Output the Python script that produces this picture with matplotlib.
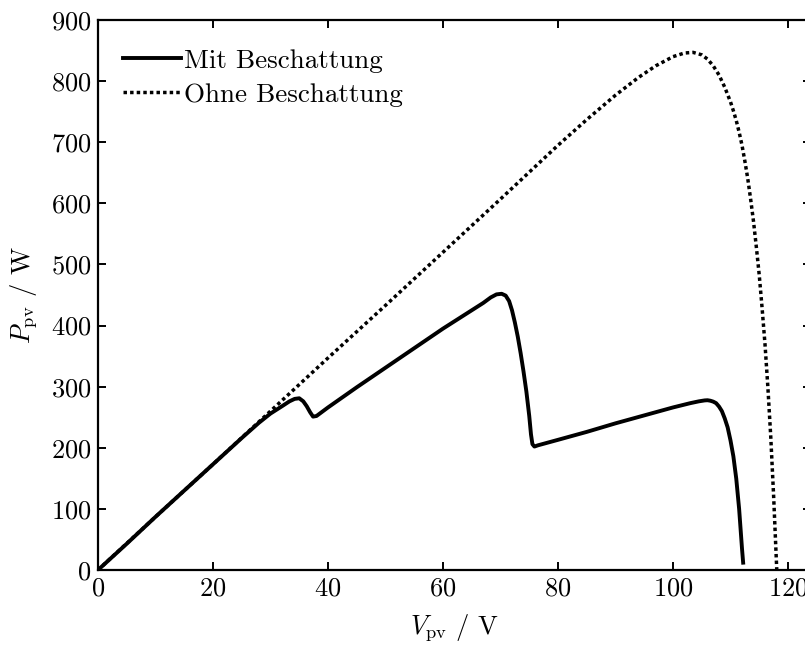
import matplotlib
matplotlib.use("Agg")
import matplotlib.pyplot as plt

plt.rcParams["font.family"] = "cmr10"
plt.rcParams["mathtext.fontset"] = "cm"
plt.rcParams["axes.unicode_minus"] = False
plt.rcParams["axes.formatter.use_mathtext"] = True

# P-V curve with partial shading
v_shaded = [0, 5, 10, 15, 20, 25, 28, 30, 32, 33.3, 34.2, 35.0, 35.7, 36.3, 36.9,
            37.4, 38.0, 40, 45, 50, 55, 60, 63, 67, 68.3, 69.3, 70.2, 70.9, 71.5,
            72.0, 72.5, 73.0, 73.5, 74.0, 74.5, 75.0, 75.3, 75.55, 75.9, 76.5,
            80, 85, 90, 95, 100, 103, 104.5, 105.5, 106, 106.5, 107, 107.5, 108,
            108.5, 109, 109.5, 110, 110.5, 111.0, 111.5, 112.0, 112.2]
p_shaded = [0, 43, 87, 130, 173, 216, 241, 256, 268, 276, 280, 281, 276, 268, 258,
            251, 252, 266, 299, 331, 363, 395, 413, 437, 446, 451, 452, 449, 440,
            425, 405, 382, 355, 325, 292, 252, 222, 206, 202, 204,
            213, 226, 240, 253, 266, 273, 276, 277.5, 277.8, 277, 275.5, 273, 267.5,
            260, 248, 233.5, 212, 186, 149.5, 100, 35, 12]

# P-V curve without shading
v_clear = [0, 10, 20, 30, 40, 50, 60, 70, 80, 85, 90, 94, 97, 100, 102, 103.5,
           105, 106, 107, 108, 109, 110, 110.5, 111, 111.5, 112, 112.5, 113,
           113.5, 114, 114.5, 115, 115.5, 116, 116.5, 117, 117.5, 118, 118.05]
p_clear = [0, 87, 173, 260, 347, 433, 520, 607, 695, 737, 777, 806, 825, 840, 846,
           847, 843, 836, 825, 810, 790, 766, 751.5, 735.5, 716.5, 695, 669, 640.5,
           607, 570.5, 528, 482.5, 428, 369.5, 299, 218, 121, 10.5, 0]

x_ticks = [0, 20, 40, 60, 80, 100, 120]
y_ticks = [0, 100, 200, 300, 400, 500, 600, 700, 800, 900]

W, H = 805, 646
fig = plt.figure(figsize=(W / 100, H / 100), dpi=100)
left, right, bottom, top = 98, 811, 570, 20
ax = fig.add_axes([left / W, (H - bottom) / H, (right - left) / W, (bottom - top) / H])

ax.plot(v_clear, p_clear, color="black", lw=2.5, ls=(0, (1, 0.9)),
        label="Ohne Beschattung", zorder=2)
ax.plot(v_shaded, p_shaded, color="black", lw=2.8, label="Mit Beschattung",
        solid_joinstyle="round", zorder=3)

ax.set_xlim(0, 124)
ax.set_ylim(0, 900)
ax.set_xticks(x_ticks)
ax.set_yticks(y_ticks)
ax.tick_params(direction="in", top=True, right=True, length=5.5, width=1.4,
               labelsize=19, pad=5)
for s in ax.spines.values():
    s.set_linewidth(1.6)

ax.set_xlabel(r"$V_{\mathrm{pv}}$ / V", fontsize=19, labelpad=8)
ax.set_ylabel(r"$P_{\mathrm{pv}}$ / W", fontsize=19, labelpad=8)

handles, labels = ax.get_legend_handles_labels()
ax.legend(handles[::-1], labels[::-1], loc="upper left", frameon=False,
          fontsize=19.5, handlelength=2.15, handletextpad=0.1, labelspacing=0.38,
          borderaxespad=0.0, borderpad=0.0, bbox_to_anchor=(0.035, 0.948))

fig.savefig("out.png", dpi=100)
